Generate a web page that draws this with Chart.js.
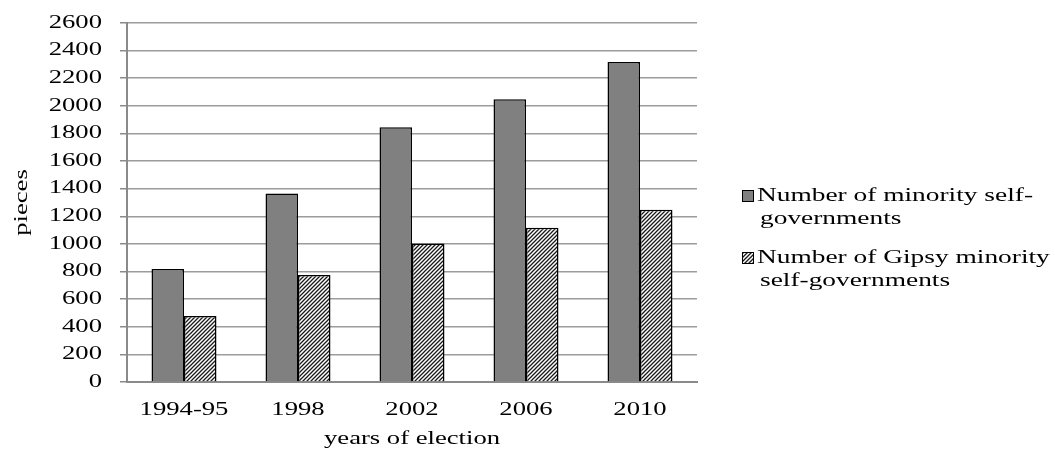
<!DOCTYPE html>
<html lang="en">
<head>
    <meta charset="UTF-8">
    <title>Minority self-governments by year of election</title>
    <script src="https://cdn.jsdelivr.net/npm/chart.js"></script>
    <style>
        * {
            margin: 0;
            padding: 0;
            box-sizing: border-box;
        }

        body {
            background: #ffffff;
            width: 1055px;
            height: 450px;
            overflow: hidden;
        }

        #chart {
            display: block;
        }
    </style>
</head>
<body>
    <canvas id="chart" width="1055" height="450"></canvas>

    <script>
        // data
        const years = ['1994-95', '1998', '2002', '2006', '2010'];
        const minorityCounts = [819, 1366, 1845, 2047, 2318];
        const gipsyCounts = [478, 775, 1003, 1118, 1248];
        const seriesNames = [
            ['Number of minority self-', 'governments'],
            ['Number of Gipsy minority', 'self-governments']
        ];
        const yMax = 2600;
        const yStep = 200;

        const FONT = "'Liberation Serif', 'Times New Roman', serif";
        // the text in the original is drawn wide, so every glyph run is stretched
        const TEXT_STRETCH = 1.48;

        const canvas = document.getElementById('chart');
        const ctx = canvas.getContext('2d');

        const origFill = ctx.fillText.bind(ctx);
        ctx.fillText = function (text, x, y) {
            ctx.save();
            ctx.translate(x, y);
            ctx.scale(TEXT_STRETCH, 1);
            origFill(text, 0, 0);
            ctx.restore();
        };
        const origMeasure = ctx.measureText.bind(ctx);
        ctx.measureText = function (text) {
            const m = origMeasure(text);
            return {
                width: m.width * TEXT_STRETCH,
                actualBoundingBoxAscent: m.actualBoundingBoxAscent,
                actualBoundingBoxDescent: m.actualBoundingBoxDescent,
                actualBoundingBoxLeft: m.actualBoundingBoxLeft * TEXT_STRETCH,
                actualBoundingBoxRight: m.actualBoundingBoxRight * TEXT_STRETCH
            };
        };

        // diagonal hatch for the Gipsy series
        function makeHatch() {
            const tile = document.createElement('canvas');
            tile.width = 4;
            tile.height = 4;
            const t = tile.getContext('2d');
            t.fillStyle = '#ffffff';
            t.fillRect(0, 0, 4, 4);
            t.strokeStyle = '#1a1a1a';
            t.lineWidth = 1.3;
            t.beginPath();
            t.moveTo(-1, 5); t.lineTo(5, -1);
            t.moveTo(-1, 1); t.lineTo(1, -1);
            t.moveTo(3, 5); t.lineTo(5, 3);
            t.stroke();
            return ctx.createPattern(tile, 'repeat');
        }
        const hatch = makeHatch();

        // two-line legend on the right, like the original
        const sideLegend = {
            id: 'sideLegend',
            afterDraw(chart) {
                const c = chart.ctx;
                const fills = ['#808080', hatch];
                const tops = [196, 258];
                c.save();
                c.font = '18.5px ' + FONT;
                c.textAlign = 'left';
                c.textBaseline = 'middle';
                seriesNames.forEach((lines, i) => {
                    const y = tops[i];
                    c.fillStyle = fills[i];
                    c.fillRect(742, y - 6, 12, 12);
                    c.strokeStyle = '#000';
                    c.lineWidth = 1;
                    c.strokeRect(742.5, y - 5.5, 11, 11);
                    c.fillStyle = '#000';
                    lines.forEach((line, j) => {
                        c.fillText(line, j === 0 ? 757 : 760, y + j * 23);
                    });
                });
                c.restore();
            }
        };

        new Chart(ctx, {
            type: 'bar',
            data: {
                labels: years,
                datasets: [{
                    label: seriesNames[0].join(''),
                    data: minorityCounts,
                    backgroundColor: '#808080',
                    borderColor: '#000000',
                    borderWidth: 1.5
                },
                {
                    label: seriesNames[1].join(' '),
                    data: gipsyCounts,
                    backgroundColor: hatch,
                    borderColor: '#000000',
                    borderWidth: 1.5
                }]
            },
            options: {
                responsive: false,
                animation: false,
                devicePixelRatio: 1,
                layout: {
                    padding: { top: 23, right: 358, bottom: 0, left: 0 }
                },
                datasets: {
                    bar: {
                        categoryPercentage: 0.57,
                        barPercentage: 1.0
                    }
                },
                plugins: {
                    legend: { display: false },
                    tooltip: { enabled: false }
                },
                scales: {
                    x: {
                        grid: { display: false },
                        border: { display: true, color: '#8a8a8a', width: 2 },
                        ticks: {
                            color: '#000',
                            padding: 9,
                            font: { family: FONT, size: 18 }
                        },
                        title: {
                            display: true,
                            text: 'years of election',
                            color: '#000',
                            font: { family: FONT, size: 18 },
                            padding: { top: 0, bottom: 0 }
                        },
                        afterFit(scale) {
                            scale.height = 68;
                            scale.paddingLeft = 0;
                            scale.paddingRight = 0;
                        }
                    },
                    y: {
                        min: 0,
                        max: yMax,
                        grid: {
                            color: '#9c9c9c',
                            lineWidth: 1.5,
                            tickColor: '#8a8a8a',
                            tickLength: 7
                        },
                        border: { display: true, color: '#8a8a8a', width: 2 },
                        ticks: {
                            stepSize: yStep,
                            color: '#000',
                            padding: 18,
                            font: { family: FONT, size: 18 },
                            callback: (value) => String(value)
                        },
                        title: {
                            display: true,
                            text: 'pieces',
                            color: '#000',
                            font: { family: FONT, size: 18 },
                            padding: { top: 11, bottom: 0 }
                        },
                        afterFit(scale) {
                            scale.width = 127;
                            scale.paddingTop = 0;
                            scale.paddingBottom = 0;
                        }
                    }
                }
            },
            plugins: [sideLegend]
        });
    </script>
</body>
</html>
